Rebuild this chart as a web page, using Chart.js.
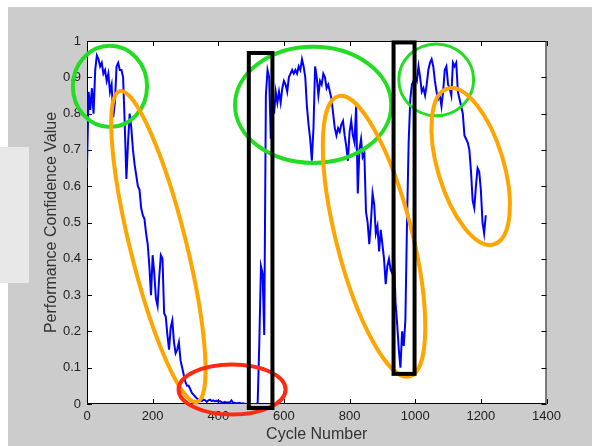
<!DOCTYPE html>
<html>
<head>
<meta charset="utf-8">
<script src="https://cdn.jsdelivr.net/npm/chart.js@4.4.1/dist/chart.umd.min.js"></script>
<style>
  html, body { margin: 0; padding: 0; background: #fff; }
  #wrap { width: 592px; height: 446px; position: relative; }
</style>
</head>
<body>
<div id="wrap"><canvas id="chart" width="592" height="446"></canvas></div>
<script>
// -------------------------------
// Data
// -------------------------------
const cycleStep = 5; // one value every 5 cycles, starting at cycle 0
const confidence = [
  0.65, 0.86, 0.81, 0.87, 0.80, 0.92, 0.96, 0.95, 0.93, 0.94,
  0.91, 0.92, 0.89, 0.91, 0.86, 0.88, 0.79, 0.83, 0.93, 0.94,
  0.92, 0.92, 0.90, 0.77, 0.62, 0.72, 0.80, 0.76, 0.70, 0.66,
  0.63, 0.60, 0.59, 0.54, 0.52, 0.51, 0.47, 0.44, 0.38, 0.30,
  0.41, 0.36, 0.29, 0.27, 0.35, 0.41, 0.40, 0.25, 0.24, 0.19,
  0.15, 0.21, 0.23, 0.17, 0.14, 0.15, 0.17, 0.12, 0.10, 0.08,
  0.06, 0.05, 0.05, 0.04, 0.03, 0.025, 0.02, 0.015, 0.012, 0.01,
  0.008, 0.012, 0.01, 0.006, 0.01, 0.012, 0.008, 0.01, 0.007, 0.009,
  0.006, 0.008, 0.005, 0.004, 0.006, 0.003, 0.005, 0.004, 0.01, 0.004,
  0.003, 0.002, 0.002, 0.003, 0.001, 0.002, 0.001, 0, 0, 0,
  0, 0, 0, 0, 0.002, 0.17, 0.38, 0.36, 0.19, 0.85,
  0.92, 0.90, 0.73, 0.84, 0.80, 0.86, 0.83, 0.86, 0.83, 0.87,
  0.89, 0.88, 0.86, 0.90, 0.91, 0.92, 0.91, 0.92, 0.91, 0.93,
  0.92, 0.95, 0.93, 0.90, 0.82, 0.77, 0.73, 0.67, 0.76, 0.93,
  0.90, 0.85, 0.89, 0.88, 0.91, 0.90, 0.87, 0.88, 0.86, 0.84,
  0.80, 0.76, 0.74, 0.76, 0.75, 0.77, 0.78, 0.74, 0.71, 0.67,
  0.75, 0.78, 0.74, 0.72, 0.82, 0.58, 0.70, 0.73, 0.68, 0.69,
  0.53, 0.50, 0.44, 0.50, 0.58, 0.55, 0.47, 0.49, 0.42, 0.48,
  0.44, 0.40, 0.33, 0.38, 0.40, 0.37, 0.36, 0.42, 0.28, 0.22,
  0.15, 0.10, 0.20, 0.16, 0.23, 0.50, 0.72, 0.84, 0.88, 0.89,
  0.90, 0.89, 0.93, 0.90, 0.86, 0.87, 0.85, 0.88, 0.92, 0.94,
  0.95, 0.93, 0.89, 0.86, 0.84, 0.85, 0.82, 0.86, 0.92, 0.93,
  0.88, 0.87, 0.85, 0.94, 0.93, 0.94, 0.86, 0.84, 0.82, 0.80,
  0.74, 0.73, 0.72, 0.70, 0.64, 0.56, 0.54, 0.60, 0.65, 0.64,
  0.59, 0.50, 0.47, 0.52
];

const xTicks = [0, 200, 400, 600, 800, 1000, 1200, 1400];
const yTicks = [0, 0.1, 0.2, 0.3, 0.4, 0.5, 0.6, 0.7, 0.8, 0.9, 1];

// annotation shapes, in data units (cycle, confidence)
const circles = [ // green "stable" regions: centre + radii
  { cx: 70,   cy: 0.875, rx: 113, ry: 0.112, w: 4 },
  { cx: 689,  cy: 0.824, rx: 238, ry: 0.160, w: 4 },
  { cx: 1064, cy: 0.893, rx: 114, ry: 0.099, w: 3 }
];
const slopes = [ // orange tilted ellipses: ends of long axis + half width (px)
  { from: [100, 0.862], to: [335, 0.0055], half: 28 },
  { from: [766, 0.848], to: [983, 0.076], half: 38 },
  { from: [1098, 0.869], to: [1240, 0.44], half: 33 }
];
const floorZone = { cx: 442, cy: 0.040, rx: 163, ry: 0.069 }; // red
const jumps = [ // black boxes round the recoveries
  { x0: 493, x1: 565, y0: -0.011, y1: 0.967 },
  { x0: 934, x1: 998, y0: 0.083, y1: 0.996 }
];

// -------------------------------
// Plugins
// -------------------------------
const frame = {
  id: 'frame',
  beforeDraw(chart) {
    const { ctx, chartArea: a } = chart;
    ctx.save();
    ctx.fillStyle = '#ffffff';
    ctx.fillRect(0, 0, chart.width, chart.height);
    ctx.fillStyle = '#cccccc';
    ctx.fillRect(8, 7, chart.width - 8, chart.height - 7);
    // faint watermark patch on the left edge
    ctx.fillStyle = '#e8e8e8';
    ctx.fillRect(0, 147, 29, 136);
    ctx.fillStyle = '#ffffff';
    ctx.fillRect(a.left, a.top, a.right - a.left, a.bottom - a.top);
    ctx.restore();
  },
  beforeDatasetsDraw(chart) {
    const { ctx, chartArea: a, scales: { x, y } } = chart;
    ctx.save();
    ctx.strokeStyle = '#000';
    ctx.lineWidth = 1;
    ctx.strokeRect(a.left + 0.5, a.top + 0.5, a.right - a.left - 1, a.bottom - a.top - 1);
    ctx.beginPath();
    xTicks.forEach(t => {
      const px = Math.round(x.getPixelForValue(t)) + 0.5;
      ctx.moveTo(px, a.bottom); ctx.lineTo(px, a.bottom - 5);
      ctx.moveTo(px, a.top); ctx.lineTo(px, a.top + 5);
    });
    yTicks.forEach(t => {
      const py = Math.round(y.getPixelForValue(t)) + 0.5;
      ctx.moveTo(a.left, py); ctx.lineTo(a.left + 5, py);
      ctx.moveTo(a.right, py); ctx.lineTo(a.right - 5, py);
    });
    ctx.stroke();
    ctx.restore();
  },
  afterDatasetsDraw(chart) {
    const { ctx, scales: { x, y } } = chart;
    const X = v => x.getPixelForValue(v);
    const Y = v => y.getPixelForValue(v);
    ctx.save();

    // green circles
    ctx.strokeStyle = '#22dd22';
    circles.forEach(c => {
      const cx = X(c.cx), cy = Y(c.cy);
      ctx.lineWidth = c.w;
      ctx.beginPath();
      ctx.ellipse(cx, cy, X(c.cx + c.rx) - cx, cy - Y(c.cy + c.ry), 0, 0, Math.PI * 2);
      ctx.stroke();
    });

    // orange tilted ellipses
    ctx.strokeStyle = '#ffa500';
    ctx.lineWidth = 4;
    slopes.forEach(s => {
      const x1 = X(s.from[0]), y1 = Y(s.from[1]);
      const x2 = X(s.to[0]), y2 = Y(s.to[1]);
      const len = Math.hypot(x2 - x1, y2 - y1) / 2;
      ctx.beginPath();
      ctx.ellipse((x1 + x2) / 2, (y1 + y2) / 2, len, s.half, Math.atan2(y2 - y1, x2 - x1), 0, Math.PI * 2);
      ctx.stroke();
    });

    // red ellipse on the floor
    ctx.strokeStyle = '#ff2a10';
    ctx.lineWidth = 4;
    const fx = X(floorZone.cx), fy = Y(floorZone.cy);
    ctx.beginPath();
    ctx.ellipse(fx, fy, X(floorZone.cx + floorZone.rx) - fx, fy - Y(floorZone.cy + floorZone.ry), 0, 0, Math.PI * 2);
    ctx.stroke();

    // black boxes
    ctx.strokeStyle = '#000';
    ctx.lineWidth = 4;
    jumps.forEach(b => {
      ctx.strokeRect(X(b.x0), Y(b.y1), X(b.x1) - X(b.x0), Y(b.y0) - Y(b.y1));
    });
    ctx.restore();
  }
};

// -------------------------------
// Chart.js Setup
// -------------------------------
const tickFont = { family: "'Liberation Sans', Arial, sans-serif", size: 13 };
const titleFont = { family: "'Liberation Sans', Arial, sans-serif", size: 16 };

const ctx = document.getElementById('chart').getContext('2d');
new Chart(ctx, {
  type: 'line',
  data: {
    datasets: [{
      data: confidence.map((v, i) => ({ x: i * cycleStep, y: v })),
      borderColor: '#0000ff',
      borderWidth: 2,
      pointRadius: 0,
      tension: 0,
      fill: false
    }]
  },
  options: {
    responsive: false,
    animation: false,
    events: [],
    layout: { padding: { left: 0, top: 41, right: 45.5, bottom: 0 } },
    plugins: { legend: { display: false }, tooltip: { enabled: false } },
    scales: {
      x: {
        type: 'linear',
        min: 0, max: 1400,
        afterBuildTicks: s => { s.ticks = xTicks.map(v => ({ value: v })); },
        afterFit: s => { s.height = 42; },
        grid: { display: false, drawTicks: false },
        border: { display: false },
        ticks: { font: tickFont, color: '#222', padding: 5, maxRotation: 0, callback: v => String(v) },
        title: { display: true, text: 'Cycle Number', font: titleFont, color: '#333', padding: { top: 0, bottom: 2 } }
      },
      y: {
        min: 0, max: 1,
        afterBuildTicks: s => { s.ticks = yTicks.map(v => ({ value: v })); },
        afterFit: s => { s.width = 87; },
        grid: { display: false, drawTicks: false },
        border: { display: false },
        ticks: { font: tickFont, color: '#222', padding: 6, callback: v => String(v) },
        title: { display: true, text: 'Performance Confidence Value', font: titleFont, color: '#333', padding: { top: 42, bottom: 0 } }
      }
    }
  },
  plugins: [frame]
});
</script>
</body>
</html>
